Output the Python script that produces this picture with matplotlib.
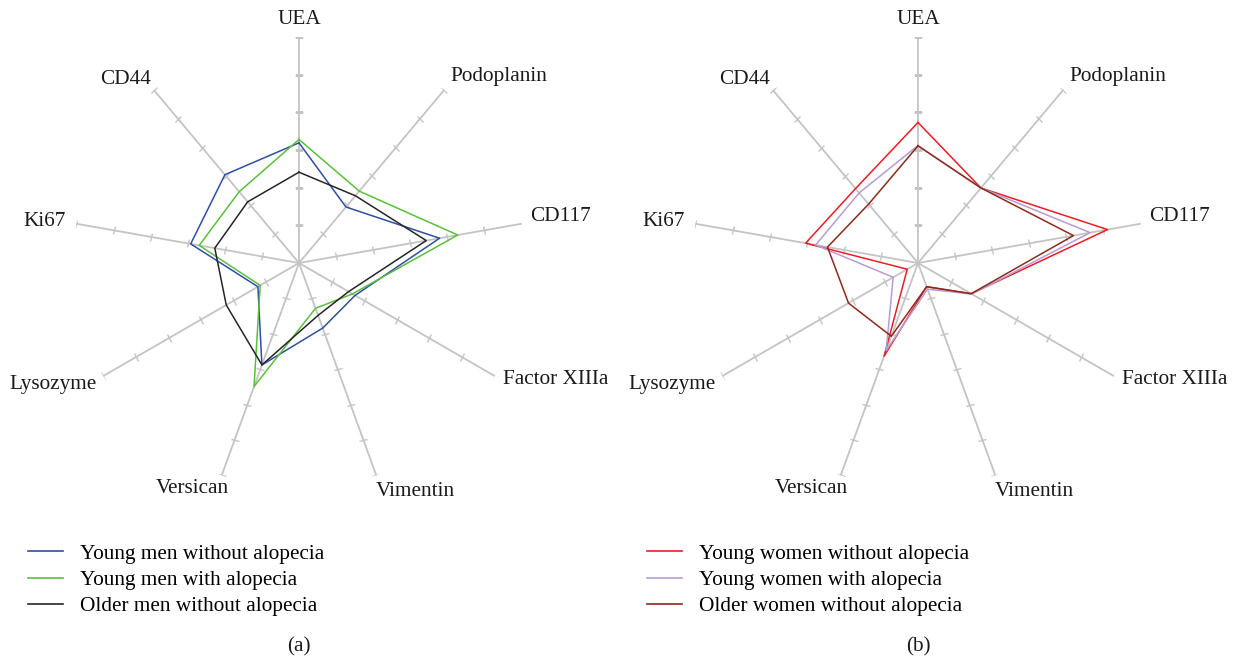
import numpy as np
import matplotlib.pyplot as plt
from matplotlib.markers import MarkerStyle
from matplotlib.transforms import Affine2D
from matplotlib.lines import Line2D

plt.rcParams['font.family'] = ['Liberation Serif', 'DejaVu Serif']

markers = ['UEA', 'Podoplanin', 'CD117', 'Factor XIIIa', 'Vimentin',
           'Versican', 'Lysozyme', 'Ki67', 'CD44']

# men (panel a)
young_men = [3.19, 1.94, 3.79, 1.72, 1.84, 2.88, 1.26, 2.92, 3.06]
young_men_alopecia = [3.28, 2.49, 4.28, 1.64, 1.28, 3.49, 1.19, 2.69, 2.47]
older_men = [2.41, 2.33, 3.43, 1.52, 1.48, 2.88, 2.23, 2.27, 2.12]

# women (panel b)
young_women = [3.73, 2.60, 5.11, 1.63, 0.67, 2.63, 0.33, 3.03, 2.58]
young_women_alopecia = [3.12, 2.60, 4.64, 1.65, 0.74, 2.47, 0.76, 2.76, 2.43]
older_women = [3.11, 2.60, 4.19, 1.63, 0.67, 2.07, 2.13, 2.44, 2.04]

men_labels = ['Young men without alopecia', 'Young men with alopecia',
              'Older men without alopecia']
women_labels = ['Young women without alopecia', 'Young women with alopecia',
                'Older women without alopecia']
men_colors = ['#2e4fa3', '#5cbf3b', '#262626']
women_colors = ['#ee1c25', '#b99bd3', '#8a2b1b']

rmax = 6
n = len(markers)
angles = np.arange(n) * 2 * np.pi / n
fs = 15.3

# label offsets in pixels (dx, dy up) and alignment
label_pos = [(0, 17, 'center'), (6, 13, 'left'), (9, 7, 'left'),
             (8, -4, 'left'), (-1, -16, 'left'), (7, -13, 'right'),
             (-7, -8, 'right'), (-11, 2, 'right'), (-3, 10, 'right')]

fig = plt.figure(figsize=(12.34, 6.58), dpi=100)
W, H = 1234, 658


def radar(cx, cy, series, colors):
    R = 226
    ax = fig.add_axes([(cx - R) / W, (H - cy - R) / H, 2 * R / W, 2 * R / H],
                      projection='polar')
    ax.set_theta_zero_location('N')
    ax.set_theta_direction(-1)
    ax.set_ylim(0, rmax)
    ax.grid(False)
    ax.set_xticks([])
    ax.set_yticks([])
    ax.spines['polar'].set_visible(False)
    ax.patch.set_alpha(0)

    for a, name, (dx, dy, ha) in zip(angles, markers, label_pos):
        ax.plot([a, a], [0, rmax], color='#c4c4c4', lw=1.3, zorder=1)
        m = MarkerStyle('_', transform=Affine2D().rotate_deg(-np.degrees(a)))
        ax.plot([a] * rmax, np.arange(1, rmax + 1), ls='none', marker=m,
                ms=6, mew=1.0, color='#c4c4c4', zorder=1)
        ax.annotate(name, xy=(a, rmax), xytext=(dx * 0.72, dy * 0.72),
                    textcoords='offset points', ha=ha, va='center',
                    fontsize=fs, color='#1a1a1a', annotation_clip=False)

    for vals, c in zip(series, colors):
        v = list(vals) + [vals[0]]
        t = list(angles) + [angles[0]]
        ax.plot(t, v, color=c, lw=1.1, zorder=3)
    return ax


radar(299, 263, [young_men, young_men_alopecia, older_men], men_colors)
radar(918, 263, [young_women, young_women_alopecia, older_women], women_colors)


def legend(x, labels, colors):
    handles = [Line2D([], [], color=c, lw=1.2) for c in colors]
    fig.legend(handles, labels, loc='upper left',
               bbox_to_anchor=(x / W, 1 - 544 / H), frameon=False,
               fontsize=fs, handlelength=1.65, handletextpad=0.8,
               labelspacing=0.3, borderpad=0, borderaxespad=0)


legend(28, men_labels, men_colors)
legend(647, women_labels, women_colors)

fig.text(299 / W, 1 - 647 / H, '(a)', ha='center', va='center',
         fontsize=fs, color='#1a1a1a')
fig.text(918 / W, 1 - 647 / H, '(b)', ha='center', va='center',
         fontsize=fs, color='#1a1a1a')

fig.savefig('out.png', dpi=100)
